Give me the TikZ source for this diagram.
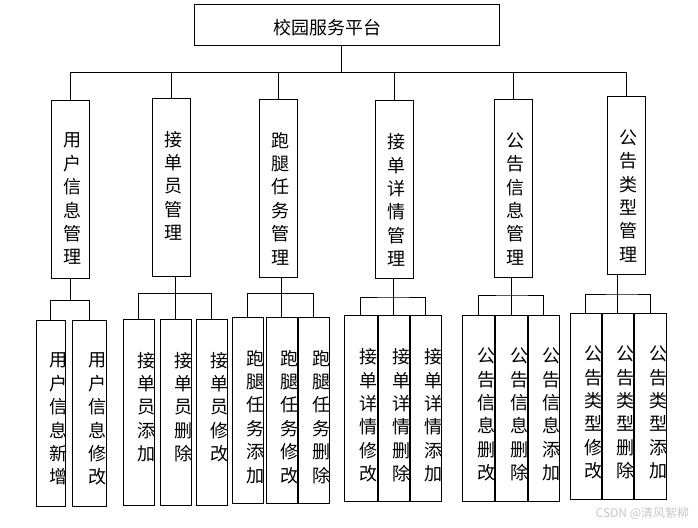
\documentclass[tikz,border=0pt]{standalone}
\usepackage{fontspec}
\setmainfont{Noto Sans CJK SC}
\usepackage{tikz}
\usetikzlibrary{positioning}

\begin{document}
\begin{tikzpicture}[
    x=1pt, y=-1pt,
    line width=1pt,
    head/.style={draw, minimum width=305pt, minimum height=41pt},
    module/.style={draw, minimum width=38pt, minimum height=178pt},
    leaf/.style={draw, minimum width=31pt, minimum height=186pt},
    vtext/.style={anchor=north, yshift=-33pt, xshift=2pt, align=center, inner sep=0pt, font=\fontsize{18}{23.4}\selectfont},
    ltext/.style={vtext, xshift=6pt}
]
    \useasboundingbox (0,0) rectangle (698,527);

    % root
    \node [head, label={[xshift=-20pt, yshift=-2.5pt, font=\fontsize{18}{20}\selectfont]center:校园服务平台}] (platform) at (347,25.5) {};
    \coordinate (bus) at (341,72);

    % modules
    \node [module, label={[vtext]north:用\\户\\信\\息\\管\\理}] (user) at (70.5,189) {};
    \node [module, label={[vtext]north:接\\单\\员\\管\\理}] (rider) at (171,187) {};
    \node [module, label={[vtext]north:跑\\腿\\任\\务\\管\\理}] (task) at (278.5,188) {};
    \node [module, label={[vtext]north:接\\单\\详\\情\\管\\理}] (detail) at (394,189.5) {};
    \node [module, label={[vtext]north:公\\告\\信\\息\\管\\理}] (notice) at (513,188.5) {};
    \node [module, label={[vtext]north:公\\告\\类\\型\\管\\理}] (ntype) at (626,185.5) {};

    % functions
    \node [leaf, minimum width=29pt, label={[ltext]north:用\\户\\信\\息\\新\\增}] (useradd) at (50.5,413) {};
    \node [leaf, minimum width=34pt, right=6pt of useradd, label={[ltext]north:用\\户\\信\\息\\修\\改}] (useredit) {};

    \node [leaf, label={[ltext]north:接\\单\\员\\添\\加}] (rideradd) at (138.5,412) {};
    \node [leaf, right=5pt of rideradd, label={[ltext]north:接\\单\\员\\删\\除}] (riderdel) {};
    \node [leaf, right=4pt of riderdel, label={[ltext]north:接\\单\\员\\修\\改}] (rideredit) {};

    \node [leaf, label={[ltext]north:跑\\腿\\任\\务\\添\\加}] (taskadd) at (247.5,410) {};
    \node [leaf, right=2pt of taskadd, label={[ltext]north:跑\\腿\\任\\务\\修\\改}] (taskedit) {};
    \node [leaf, right=0pt of taskedit, label={[ltext]north:跑\\腿\\任\\务\\删\\除}] (taskdel) {};

    \node [leaf, minimum width=33pt, label={[ltext]north:接\\单\\详\\情\\修\\改}] (detailedit) at (360.5,408.5) {};
    \node [leaf, right=0pt of detailedit, label={[ltext]north:接\\单\\详\\情\\删\\除}] (detaildel) {};
    \node [leaf, right=0pt of detaildel, label={[ltext]north:接\\单\\详\\情\\添\\加}] (detailadd) {};

    \node [leaf, minimum width=32pt, label={[ltext]north:公\\告\\信\\息\\删\\改}] (noticeedit) at (478,408) {};
    \node [leaf, minimum width=32pt, right=0pt of noticeedit, label={[ltext]north:公\\告\\信\\息\\删\\除}] (noticedel) {};
    \node [leaf, right=0pt of noticedel, label={[ltext]north:公\\告\\信\\息\\添\\加}] (noticeadd) {};

    \node [leaf, label={[ltext]north:公\\告\\类\\型\\修\\改}] (typeedit) at (585.5,406) {};
    \node [leaf, right=0pt of typeedit, label={[ltext]north:公\\告\\类\\型\\删\\除}] (typedel) {};
    \node [leaf, minimum width=32pt, right=0pt of typedel, label={[ltext]north:公\\告\\类\\型\\添\\加}] (typeadd) {};

    % top level lines
    \draw (platform.south -| bus) -- (bus);
    \draw (user.north |- bus) -- (ntype.north |- bus);
    \draw (user.north |- bus) -- (user.north);
    \draw (rider.north |- bus) -- (rider.north);
    \draw (task.north |- bus) -- (task.north);
    \draw (detail.north |- bus) -- (detail.north);
    \draw (notice.north |- bus) -- (notice.north);
    \draw (ntype.north |- bus) -- (ntype.north);

    % second level lines
    \path (user.south) ++(0,22) coordinate (b1);
    \draw (user.south) -- (b1);
    \draw (useradd.north) |- (b1) -| (useredit.north);

    \path (rider.south) ++(0,17) coordinate (b2);
    \draw (rider.south -| riderdel.north) -- (riderdel.north);
    \draw (rideradd.north) |- (b2) -| (rideredit.north);

    \path (task.south) ++(0,16) coordinate (b3);
    \draw (task.south -| taskedit.north) -- (taskedit.north);
    \draw (taskadd.north) |- (b3) -| (taskdel.north);

    \path (detail.south) ++(0,18) coordinate (b4);
    \draw (detail.south -| detaildel.north) -- (detaildel.north);
    \draw (detailedit.north) |- (b4) -| (detailadd.north);

    \path (notice.south) ++(0,17) coordinate (b5);
    \draw (notice.south -| noticedel.north) -- (noticedel.north);
    \draw (noticeedit.north) |- (b5) -| (noticeadd.north);

    \path (ntype.south) ++(0,19) coordinate (b6);
    \draw (ntype.south -| typedel.north) -- (typedel.north);
    \draw (typeedit.north) |- (b6) -| (typeadd.north);

    \node [anchor=east, text=gray!45, font=\fontsize{12}{12}\selectfont] (mark) at (693,513) {CSDN @清风絮柳};
\end{tikzpicture}
\end{document}
